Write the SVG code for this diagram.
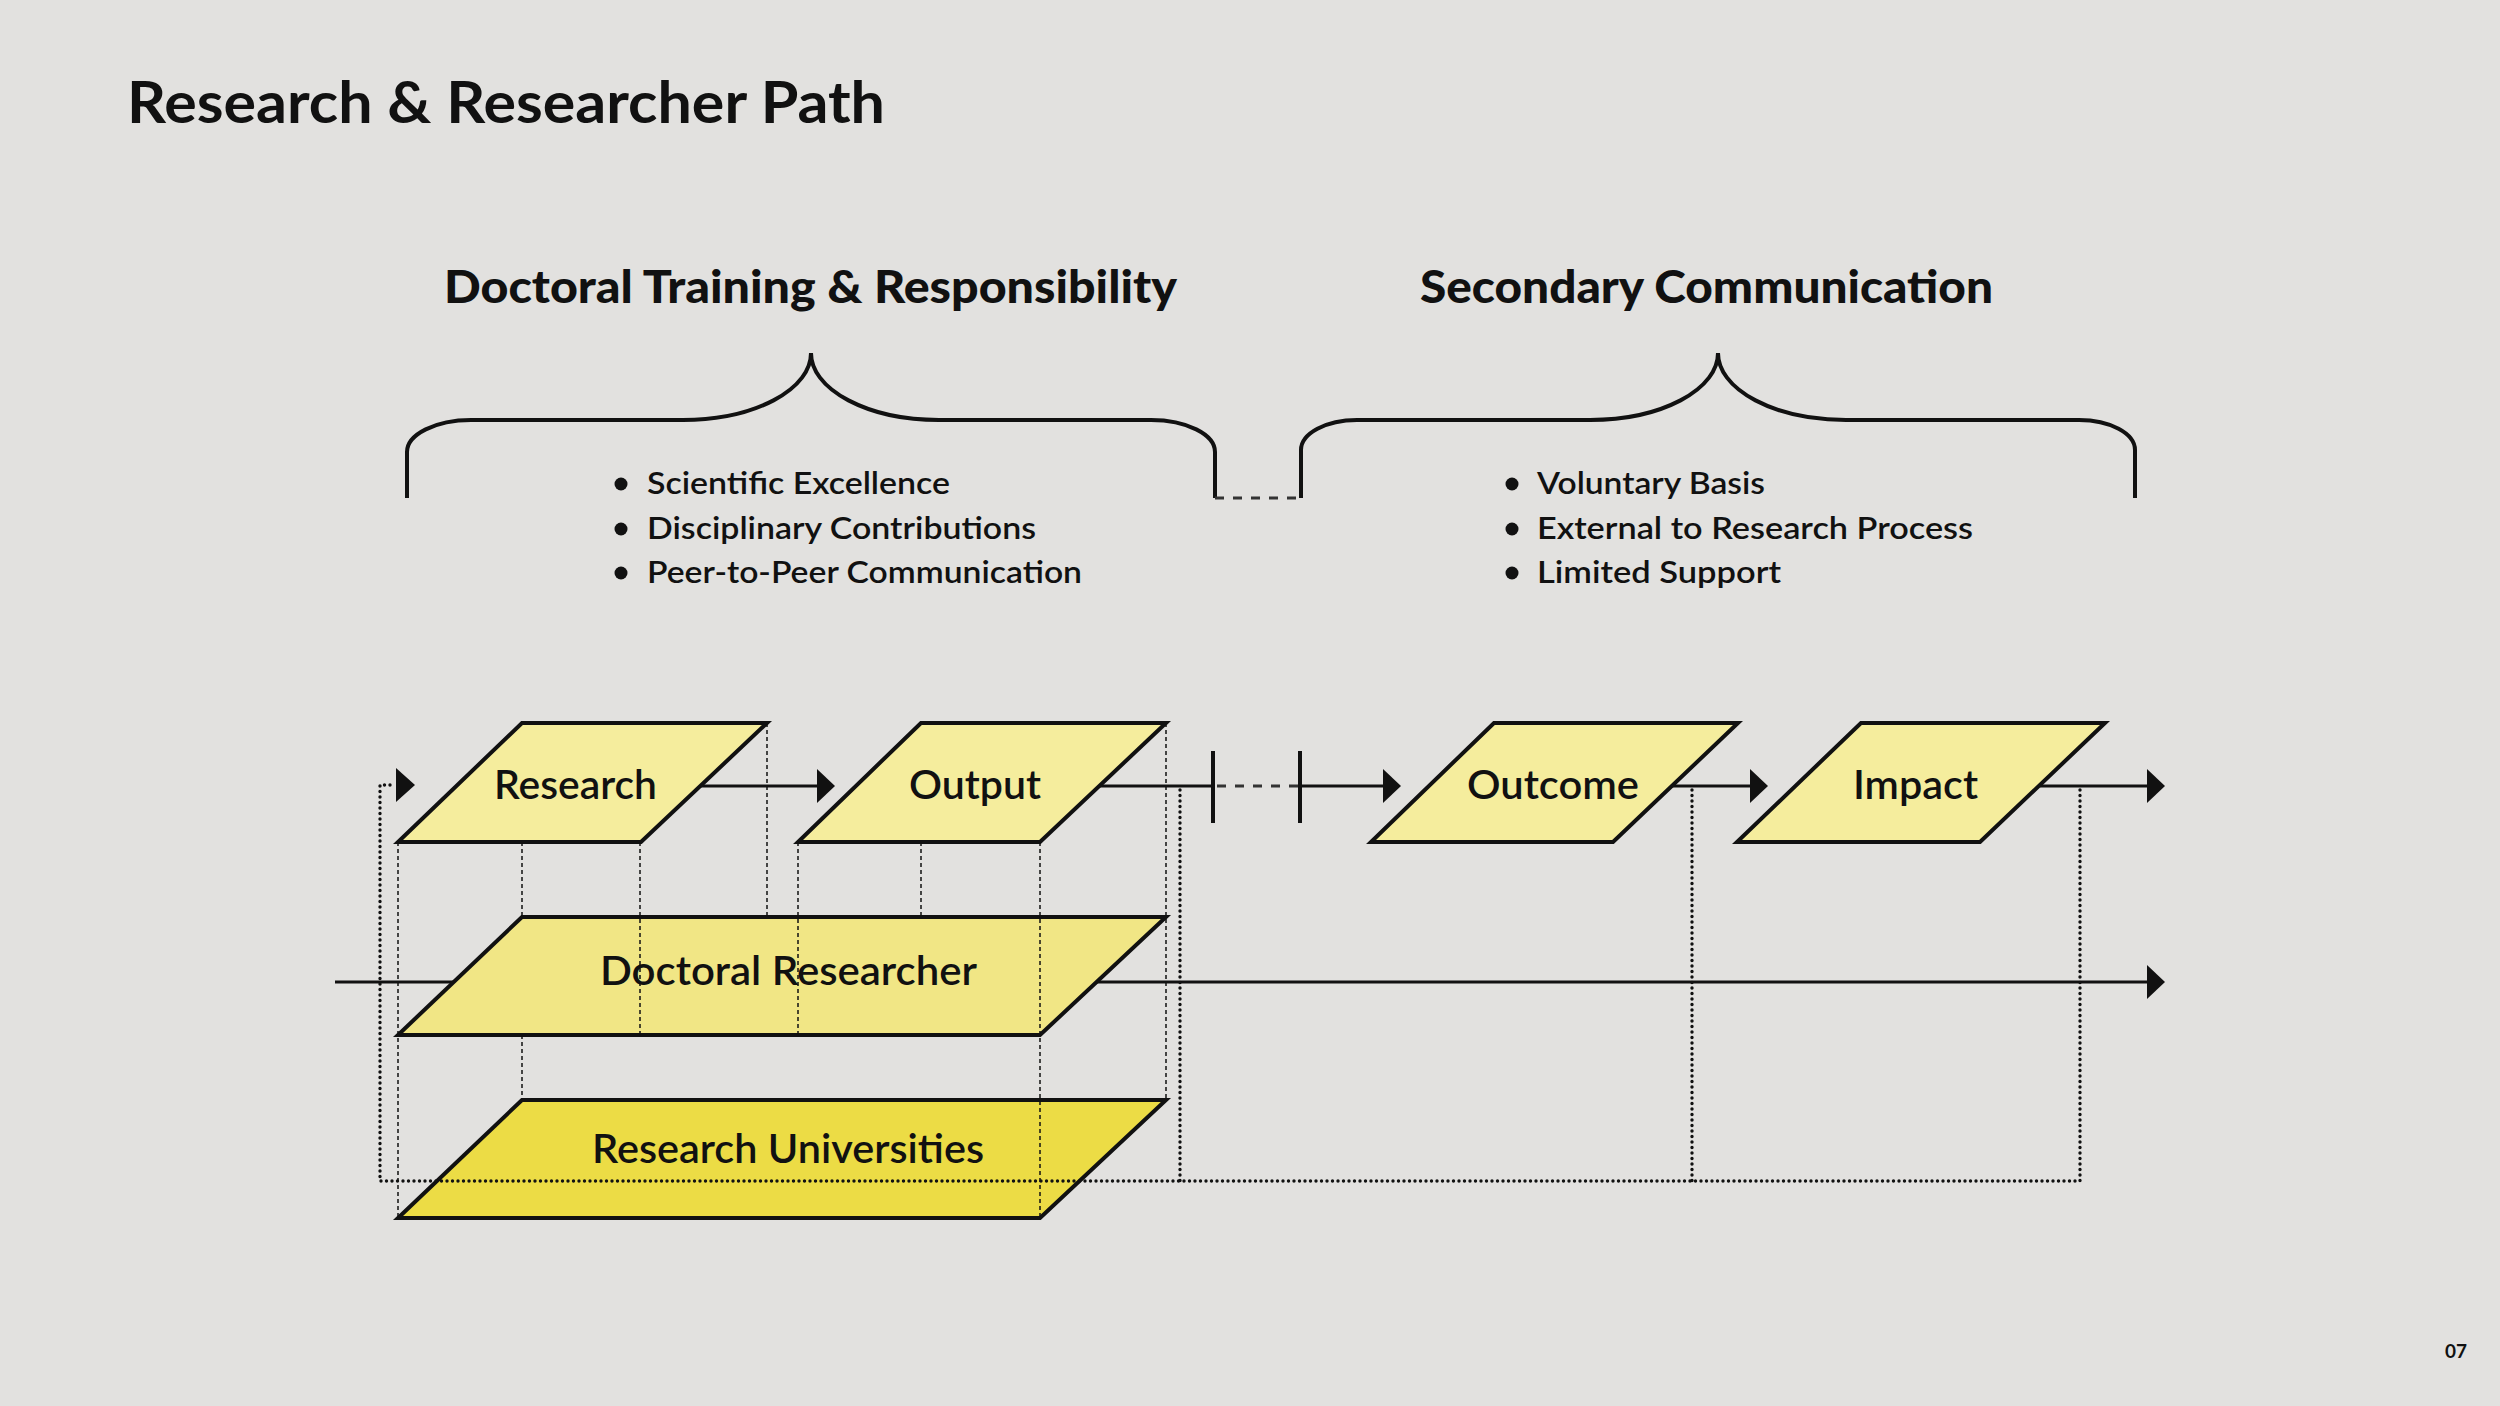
<svg xmlns="http://www.w3.org/2000/svg" width="2500" height="1406" viewBox="0 0 2500 1406">
<style>
.bg{fill:#e2e1df}
.t{font-family:Lato,"Liberation Sans",sans-serif;fill:#111}
.title{font-size:58px;font-weight:700}
.head{font-size:46px;font-weight:900}
.bul{font-size:30px;font-weight:600}
.lab{font-size:40px;font-weight:600}
.pg{font-size:19px;font-weight:700}
.shape{stroke:#111;stroke-width:4;stroke-linejoin:miter}
.light{fill:#f5ed9d}
.mid{fill:#f1e685}
.dark{fill:#ecdc45}
.brace{fill:none;stroke:#111;stroke-width:4}
.solid{fill:none;stroke:#111;stroke-width:3}
.tick{fill:none;stroke:#111;stroke-width:4}
.dash{fill:none;stroke:#333;stroke-width:3;stroke-dasharray:9 9}
.thin{fill:none;stroke:#111;stroke-width:1.5;stroke-dasharray:4 3}
.dot{fill:none;stroke:#111;stroke-width:3.4;stroke-dasharray:0 5.5;stroke-linecap:round}
.head-arrow{fill:#111}
</style>
<rect class="bg" x="0" y="0" width="2500" height="1406"/>

<text class="t title" x="127" y="123" textLength="758" lengthAdjust="spacingAndGlyphs">Research &amp; Researcher Path</text>

<g id="brace-doctoral">
<text class="t head" x="444" y="303" textLength="733" lengthAdjust="spacingAndGlyphs">Doctoral Training &amp; Responsibility</text>
<path class="brace" d="M407,498 V452 A64,32 0 0 1 471,420 H683 A128,67 0 0 0 811,353 A128,67 0 0 0 939,420 H1151 A64,32 0 0 1 1215,452 V498"/>
<circle cx="621" cy="484" r="6.5" fill="#111"/>
<circle cx="621" cy="529" r="6.5" fill="#111"/>
<circle cx="621" cy="573" r="6.5" fill="#111"/>
<text class="t bul" x="647" y="494" textLength="303" lengthAdjust="spacingAndGlyphs">Scientific Excellence</text>
<text class="t bul" x="647" y="539" textLength="389" lengthAdjust="spacingAndGlyphs">Disciplinary Contributions</text>
<text class="t bul" x="647" y="583" textLength="435" lengthAdjust="spacingAndGlyphs">Peer-to-Peer Communication</text>
</g>

<g id="brace-secondary">
<text class="t head" x="1420" y="303" textLength="573" lengthAdjust="spacingAndGlyphs">Secondary Communication</text>
<path class="brace" d="M1301,498 V450 A56,30 0 0 1 1357,420 H1590 A128,67 0 0 0 1718,353 A128,67 0 0 0 1846,420 H2079 A56,30 0 0 1 2135,450 V498"/>
<circle cx="1512" cy="484" r="6.5" fill="#111"/>
<circle cx="1512" cy="529" r="6.5" fill="#111"/>
<circle cx="1512" cy="573" r="6.5" fill="#111"/>
<text class="t bul" x="1537" y="494" textLength="228" lengthAdjust="spacingAndGlyphs">Voluntary Basis</text>
<text class="t bul" x="1537" y="539" textLength="436" lengthAdjust="spacingAndGlyphs">External to Research Process</text>
<text class="t bul" x="1537" y="583" textLength="244" lengthAdjust="spacingAndGlyphs">Limited Support</text>
</g>

<g id="node-universities">
<path class="shape dark" d="M522,1100 H1166 L1040,1218 H398 Z"/>
<text class="t lab" x="592" y="1163" textLength="392" lengthAdjust="spacingAndGlyphs">Research Universities</text>
</g>
<g id="node-doctoral">
<path class="shape mid" d="M522,917 H1166 L1040,1035 H398 Z"/>
<text class="t lab" x="600" y="985" textLength="377" lengthAdjust="spacingAndGlyphs">Doctoral Researcher</text>
</g>
<g id="node-research">
<path class="shape light" d="M522,723 H767 L641,842 H398 Z"/>
<text class="t lab" x="494" y="799" textLength="163" lengthAdjust="spacingAndGlyphs">Research</text>
</g>
<g id="node-output">
<path class="shape light" d="M921,723 H1166 L1040,842 H798 Z"/>
<text class="t lab" x="909" y="799" textLength="132" lengthAdjust="spacingAndGlyphs">Output</text>
</g>
<g id="node-outcome">
<path class="shape light" d="M1494,723 H1738 L1613,842 H1371 Z"/>
<text class="t lab" x="1467" y="799" textLength="172" lengthAdjust="spacingAndGlyphs">Outcome</text>
</g>
<g id="node-impact">
<path class="shape light" d="M1861,723 H2105 L1980,842 H1737 Z"/>
<text class="t lab" x="1853" y="799" textLength="125" lengthAdjust="spacingAndGlyphs">Impact</text>
</g>

<g id="connectors">
<path class="dash" d="M1215,498 H1301"/>
<path class="thin" d="M398,842 V1218 M522,842 V917 M522,1035 V1100 M640,842 V1035 M767,723 V917 M798,842 V1035 M921,842 V917 M1040,842 V1218 M1166,723 V1100"/>
<path class="solid" d="M700,786 H820"/>
<polygon class="head-arrow" points="817,769 835,786 817,803"/>
<path class="solid" d="M1099,786 H1213 M1300,786 H1385"/>
<path class="dash" d="M1217,786 H1300"/>
<path class="tick" d="M1213,751 V823 M1300,751 V823"/>
<polygon class="head-arrow" points="1383,769 1401,786 1383,803"/>
<path class="solid" d="M1671,786 H1752"/>
<polygon class="head-arrow" points="1750,769 1768,786 1750,803"/>
<path class="solid" d="M2040,786 H2149"/>
<polygon class="head-arrow" points="2147,769 2165,786 2147,803"/>
<path class="solid" d="M335,982 H454 M1097,982 H2149"/>
<polygon class="head-arrow" points="2147,965 2165,982 2147,999"/>
<path class="dot" d="M2080,790 V1181 H380 V785 H393"/>
<path class="dot" d="M1180,790 V1181 M1692,790 V1181"/>
<polygon class="head-arrow" points="396,768 415,785 396,802"/>
</g>

<text class="t pg" x="2445" y="1358" textLength="22" lengthAdjust="spacingAndGlyphs">07</text>
</svg>
